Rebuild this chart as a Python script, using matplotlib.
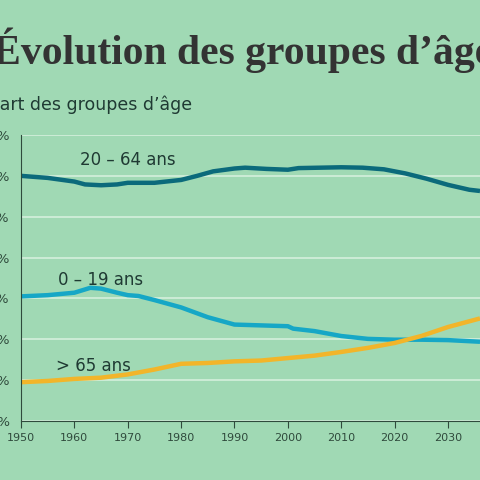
import matplotlib
matplotlib.use("Agg")
import matplotlib.pyplot as plt
import numpy as np

years_a = [1950, 1955, 1960, 1962, 1965, 1968, 1970, 1975, 1980, 1983, 1986, 1990, 1992, 1996, 2000, 2002, 2006, 2010, 2014, 2018, 2022, 2026, 2030, 2034, 2036]
adults  = [60.0, 59.5, 58.6, 57.9, 57.7, 57.9, 58.3, 58.3, 59.0, 60.0, 61.1, 61.8, 62.0, 61.7, 61.5, 61.9, 62.0, 62.1, 62.0, 61.6, 60.6, 59.3, 57.8, 56.6, 56.3]
years_y = [1950, 1955, 1960, 1963, 1965, 1968, 1970, 1972, 1975, 1980, 1985, 1990, 1995, 2000, 2001, 2005, 2010, 2015, 2020, 2025, 2030, 2036]
young   = [30.5, 30.8, 31.4, 32.6, 32.4, 31.4, 30.8, 30.6, 29.6, 27.8, 25.4, 23.6, 23.4, 23.2, 22.6, 22.0, 20.8, 20.1, 19.9, 19.9, 19.8, 19.4]
years_o = [1950, 1955, 1960, 1965, 1970, 1975, 1980, 1985, 1990, 1995, 2000, 2005, 2010, 2015, 2020, 2025, 2030, 2036]
old     = [9.5, 9.8, 10.3, 10.6, 11.4, 12.6, 14.0, 14.2, 14.6, 14.8, 15.4, 16.0, 16.9, 17.9, 19.1, 20.8, 23.0, 25.1]
yticks = [0, 10, 20, 30, 40, 50, 60, 70]
xticks = [1950, 1960, 1970, 1980, 1990, 2000, 2010, 2020, 2030]

bg = "#a0d9b4"
fig = plt.figure(figsize=(4.8, 4.8), dpi=100, facecolor=bg)
ax = fig.add_axes([21/480, 59/480, 1 - 21/480, 286/480], facecolor=bg)
ax.set_xlim(1950, 2036)
ax.set_ylim(0, 70)
ax.set_yticks(yticks)
ax.set_yticklabels([f"{t}%" for t in yticks])
ax.set_xticks(xticks)
ax.grid(axis="y", color="#d4efdc", lw=1.2)
ax.set_axisbelow(True)
for s in ["top", "right"]:
    ax.spines[s].set_visible(False)
ax.spines["left"].set_color("#2f4a3c")
ax.spines["bottom"].set_color("#2f4a3c")
ax.tick_params(axis="y", length=0, pad=8, labelsize=9.5, colors="#2f4a3c")
ax.tick_params(axis="x", length=5, labelsize=8, colors="#2f4a3c", color="#2f4a3c")

ax.plot(years_a, adults, color="#0b6a7b", lw=3.2, solid_capstyle="butt")
ax.plot(years_y, young, color="#16a7c6", lw=3.2, solid_capstyle="butt")
ax.plot(years_o, old, color="#f2b52a", lw=3.2, solid_capstyle="butt")

ax.text(1970, 64, "20 – 64 ans", ha="center", va="center", fontsize=12, color="#1f3a33")
ax.text(1965, 34.5, "0 – 19 ans", ha="center", va="center", fontsize=12, color="#1f3a33")
ax.text(1963.5, 13.5, "> 65 ans", ha="center", va="center", fontsize=12, color="#1f3a33")

fig.text(-0.015, 0.895, "Évolution des groupes d’âge", fontsize=30, fontweight="bold",
         family="Liberation Serif", color="#333333", va="center", ha="left")
fig.text(-0.02, 0.782, "Part des groupes d’âge", fontsize=12.5, color="#1f3a33", va="center", ha="left")

fig.savefig("out.png", dpi=100, facecolor=bg)
